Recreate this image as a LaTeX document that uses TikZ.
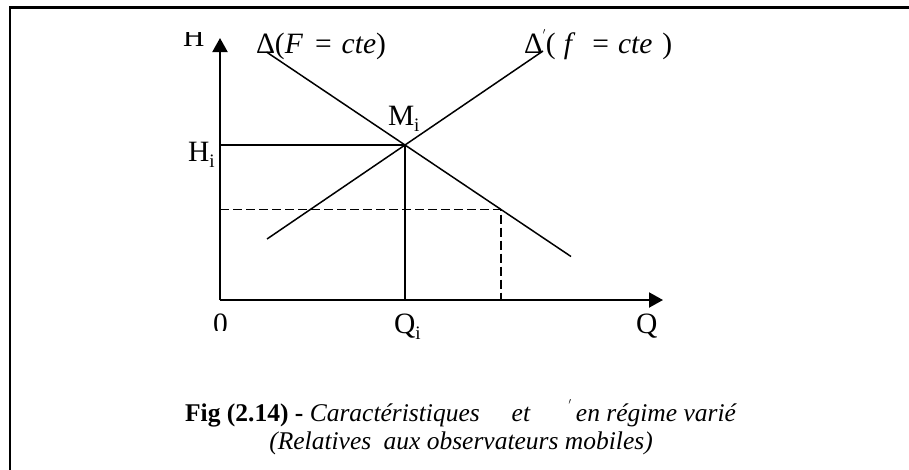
\documentclass[tikz,border=0pt]{standalone}
\usepackage{fontspec}
\setmainfont{Liberation Serif}
\usetikzlibrary{arrows.meta}
\newcommand{\lowi}{\raisebox{-0.22em}{\fontsize{19}{20}\selectfont i}}
\newcommand{\primemark}{\raisebox{0.5em}{\fontsize{13}{13}\selectfont$'$}}
\begin{document}
\begin{tikzpicture}[x=1pt,y=-1pt,
  lbl/.style={inner sep=0pt,outer sep=0pt,font=\fontsize{29.5}{32}\selectfont},
  captext/.style={inner sep=0pt,outer sep=0pt,font=\fontsize{25.5}{30}\selectfont},
  axisline/.style={line width=2pt,-{Triangle[length=14pt,width=15pt]}},
  curveline/.style={line width=1.5pt},
  plainline/.style={line width=1.5pt},
  dashline/.style={line width=1.5pt,dash pattern=on 9pt off 4pt}]
\useasboundingbox (0,0) rectangle (909,469);
% frame (top and left only)
\draw[line width=2.4pt] (909,7.5) -- (10,7.5) -- (10,470);
% coordinates
\coordinate (O) at (220,300);
\coordinate (Htip) at (220,38);
\coordinate (Qtip) at (663,300);
\coordinate (M) at (405,145);
\coordinate (Hi) at (220,145);
\coordinate (Qi) at (405,300);
\coordinate (D1a) at (266.5,52);
\coordinate (D1b) at (571,256.5);
\coordinate (D2a) at (267,239);
\coordinate (D2b) at (543,51);
\coordinate (P) at (501,209.5);
\coordinate (Ph) at (220,209.5);
\coordinate (Pq) at (501,300);
% lines
\draw[curveline] (D1a) -- (D1b);
\draw[curveline] (D2a) -- (D2b);
\draw[plainline] (Hi) -- (M) -- (Qi);
\draw[dashline] (Ph) -- (P) -- (Pq);
\draw[axisline] (O) -- (Htip);
\draw[axisline] (O) -- (Qtip);
% labels
\begin{scope}
\clip (150,32) rectangle (215,70);
\node[lbl,anchor=base west] (Hl) at (183,46) {H};
\end{scope}
\begin{scope}
\clip (200,305) rectangle (240,330);
\node[lbl,anchor=base west] (zero) at (213,333) {0};
\end{scope}
\node[lbl,anchor=base west] (Ml) at (388,125) {M\lowi};
\node[lbl,anchor=base west] (Hil) at (188,161.5) {H\lowi};
\node[lbl,anchor=base west] (Qil) at (394,333) {Q\lowi};
\node[lbl,anchor=base west] (Ql) at (636,333) {Q};
\node[lbl,anchor=base west] (D1l) at (256,53.5) {Δ(\textit{F}\hspace{12pt}=\hspace{10pt}\textit{cte})};
\node[lbl,anchor=base west] (D2l) at (524,53.5) {Δ\primemark(\hspace{8pt}\textit{f}\hspace{17pt}=\hspace{9pt}\textit{cte}\hspace{10pt})};
% caption
\node[captext,anchor=base] (c1) at (461,421.5) {\textbf{Fig (2.14) -} \textit{Caractéristiques}\hspace{32pt}\textit{et}\hspace{38pt}\primemark\,\textit{en régime varié}};
\node[captext,anchor=base] (c2) at (461,449) {\textit{(Relatives\hspace{6pt} aux observateurs mobiles)}};
\end{tikzpicture}
\end{document}
